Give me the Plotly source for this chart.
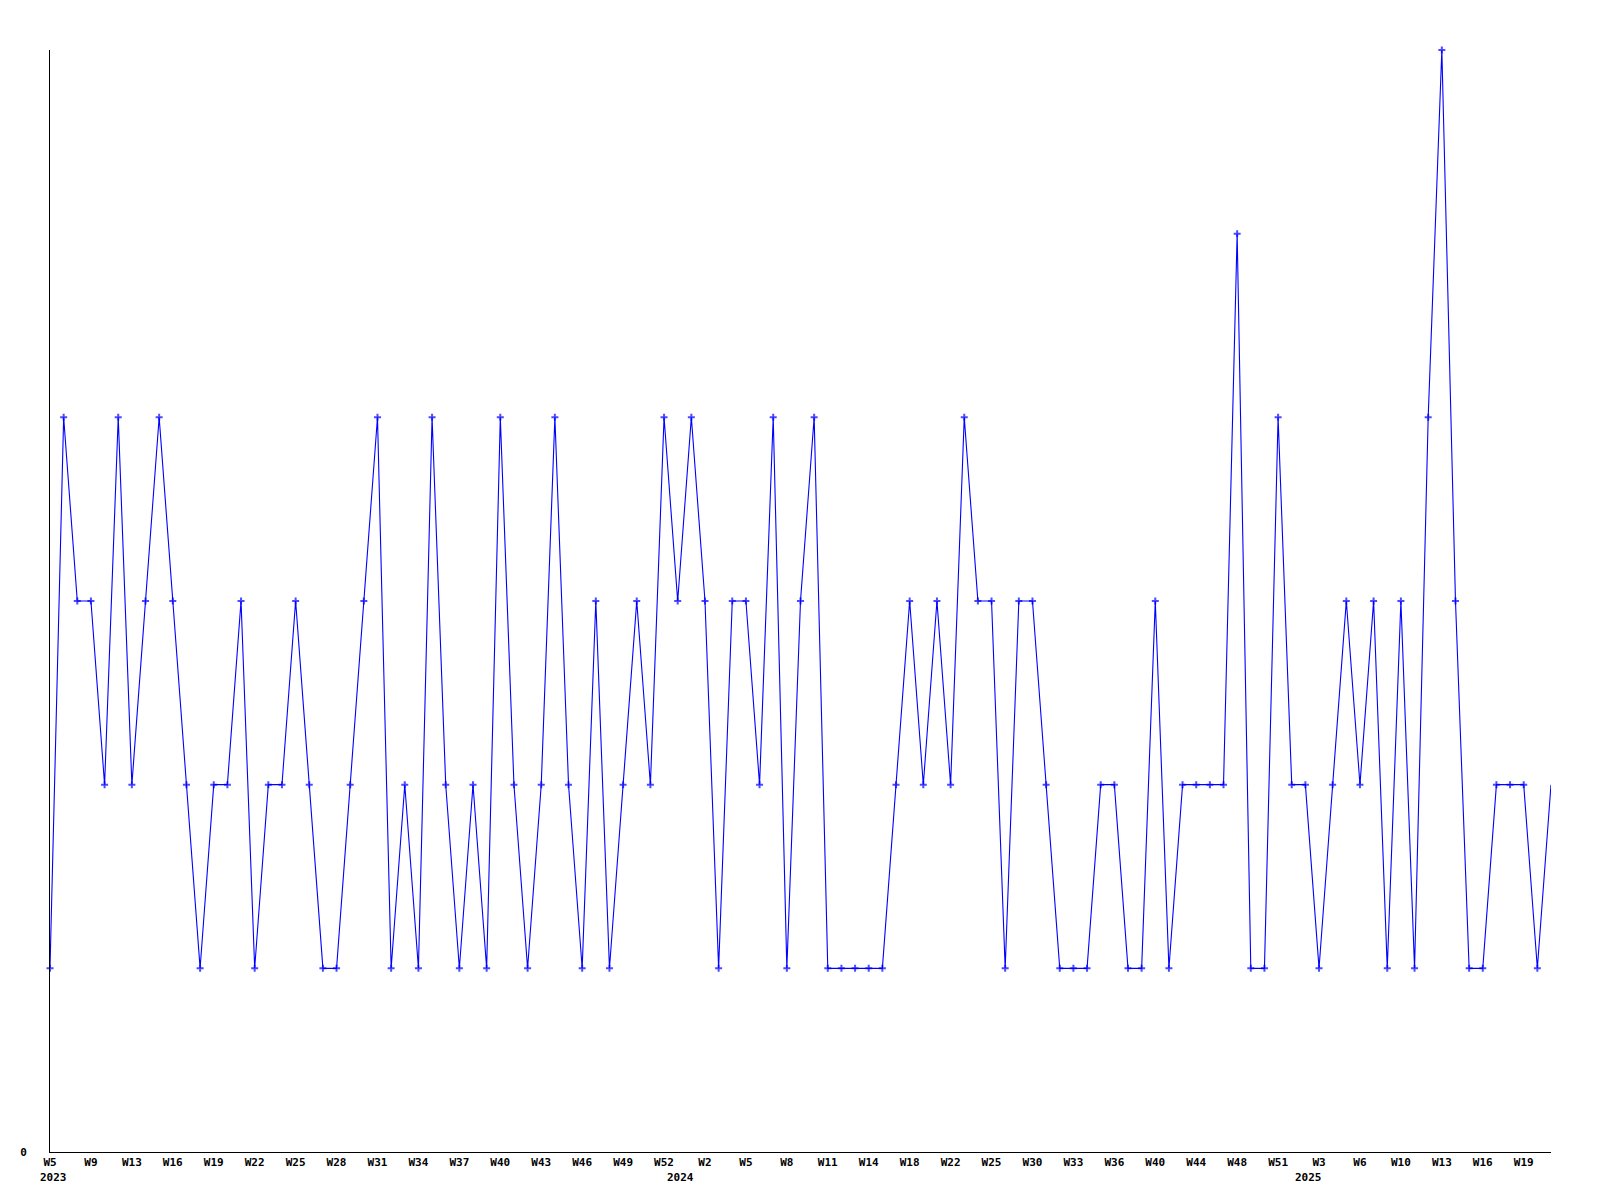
import plotly.graph_objects as go

# ---- data ----
weeks_2023 = [5, 7, 8, 9, 11, 12] + list(range(13, 53))
weeks_2024 = list(range(0, 15)) + [16, 17, 18, 20, 21, 22, 23, 24, 25, 27, 29,
                                   30, 31, 32, 33, 34, 35, 36, 38, 39, 40, 42, 43,
                                   44, 46, 47, 48, 49, 50, 51, 52]
weeks_2025 = [1, 3, 4, 5, 6, 8, 9] + list(range(10, 22))

values = [1, 4, 3, 3, 2, 4, 2, 3, 4, 3,
          2, 1, 2, 2, 3, 1, 2, 2, 3, 2,
          1, 1, 2, 3, 4, 1, 2, 1, 4, 2,
          1, 2, 1, 4, 2, 1, 2, 4, 2, 1,
          3, 1, 2, 3, 2, 4, 3, 4, 3, 1,
          3, 3, 2, 4, 1, 3, 4, 1, 1, 1,
          1, 1, 2, 3, 2, 3, 2, 4, 3, 3,
          1, 3, 3, 2, 1, 1, 1, 2, 2, 1,
          1, 3, 1, 2, 2, 2, 2, 5, 1, 1,
          4, 2, 2, 1, 2, 3, 2, 3, 1, 3,
          1, 4, 6, 3, 1, 1, 2, 2, 2, 1,
          2]

years = ["2023", "2024", "2025"]

# ---- build categories ----
cats = []
wk_labels = []
year_first = []
for yr, wks in zip(years, [weeks_2023, weeks_2024, weeks_2025]):
    year_first.append(f"{yr}-W{wks[0]:02d}")
    for w in wks:
        cats.append(f"{yr}-W{w:02d}")
        wk_labels.append(f"W{w}")

n = len(cats)
tickvals = cats[0::3]
ticktext = wk_labels[0::3]
marker_sizes = [5] * (n - 1) + [0]

font_mono = dict(family="DejaVu Sans Mono", size=11, color="black", weight="bold")

fig = go.Figure()
fig.add_trace(go.Scatter(
    x=cats, y=values, mode="lines+markers",
    line=dict(color="#0000FF", width=1.1),
    marker=dict(symbol="cross-thin", size=marker_sizes, color="#0000FF",
                line=dict(color="#0000FF", width=2)),
    cliponaxis=False, showlegend=False, hoverinfo="x+y",
))

for yr, c in zip(years, year_first):
    fig.add_annotation(x=c, y=0, xref="x", yref="y", text=yr, showarrow=False,
                       font=font_mono, xanchor="center", yanchor="top",
                       xshift=3, yshift=-17)

fig.update_layout(
    width=1584, height=1184, autosize=False,
    margin=dict(l=42, r=41, t=42, b=39.5, pad=0),
    paper_bgcolor="white", plot_bgcolor="white",
    font=font_mono,
)
fig.update_xaxes(
    type="category", categoryorder="array", categoryarray=cats,
    range=[0, n - 1], showgrid=False, zeroline=False,
    showline=True, linecolor="black", linewidth=1,
    tickmode="array", tickvals=tickvals, ticktext=ticktext,
    ticks="", tickfont=font_mono, tickangle=0,
)
fig.update_yaxes(
    range=[0, 6], showgrid=False, zeroline=False,
    showline=True, linecolor="black", linewidth=1,
    tickmode="array", tickvals=[0], ticktext=["0"],
    ticks="", tickfont=font_mono, ticklabelstandoff=20,
)

fig.write_html("out.html")
